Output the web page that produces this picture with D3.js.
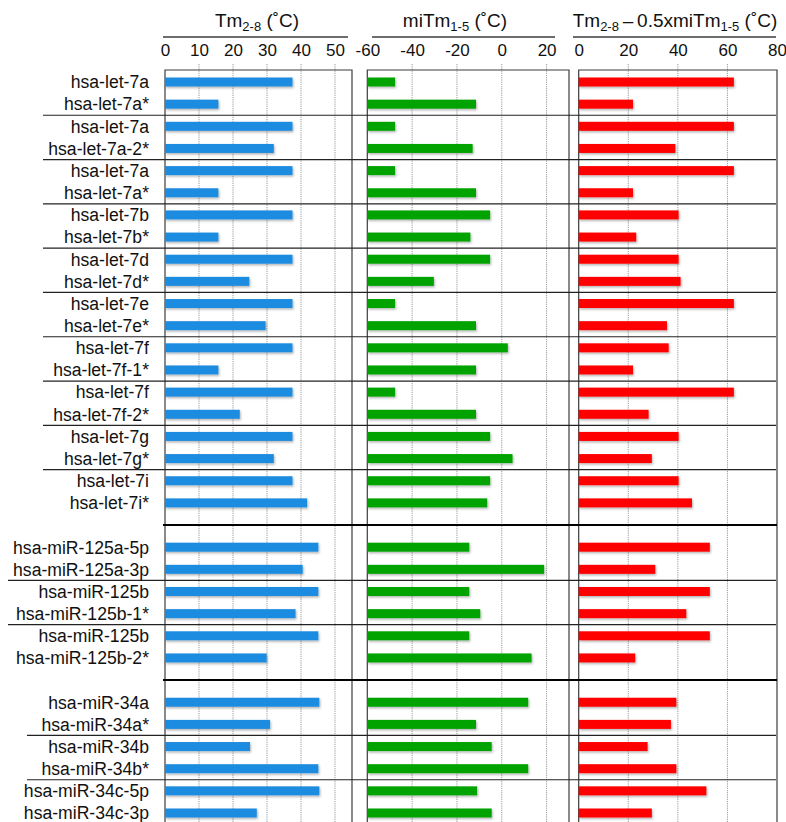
<!DOCTYPE html>
<html>
<head>
<meta charset="utf-8">
<script src="https://cdn.jsdelivr.net/npm/d3@7"></script>
<style>
  html, body { margin: 0; padding: 0; background: #fff; }
  svg { display: block; font-family: "Liberation Sans", Arial, Helvetica, sans-serif; }
</style>
</head>
<body>
<svg id="chart" width="786" height="822"></svg>
<script>
// miRNA names, grouped by family (let-7, miR-125, miR-34)
const labelsLet7 = ["hsa-let-7a","hsa-let-7a*","hsa-let-7a","hsa-let-7a-2*","hsa-let-7a","hsa-let-7a*",
  "hsa-let-7b","hsa-let-7b*","hsa-let-7d","hsa-let-7d*","hsa-let-7e","hsa-let-7e*",
  "hsa-let-7f","hsa-let-7f-1*","hsa-let-7f","hsa-let-7f-2*","hsa-let-7g","hsa-let-7g*",
  "hsa-let-7i","hsa-let-7i*"];
const labels125 = ["hsa-miR-125a-5p","hsa-miR-125a-3p","hsa-miR-125b","hsa-miR-125b-1*","hsa-miR-125b","hsa-miR-125b-2*"];
const labels34 = ["hsa-miR-34a","hsa-miR-34a*","hsa-miR-34b","hsa-miR-34b*","hsa-miR-34c-5p","hsa-miR-34c-3p"];

// Tm of seed region nt 2-8 (°C)
const tm28 = [37.5,15.7,37.5,32,37.5,15.7,37.5,15.7,37.5,24.8,37.5,29.6,37.5,15.7,37.5,22,37.5,32,37.5,41.8,
  45.1,40.5,45.1,38.4,45.1,29.9,
  45.4,30.9,25,45.1,45.4,27];
// miTm of nt 1-5 (°C)
const miTm15 = [-47.6,-11.5,-47.6,-13,-47.6,-11.5,-5.2,-14,-5.2,-30.3,-47.6,-11.5,2.7,-11.5,-47.6,-11.5,-5.2,4.8,-5.2,-6.5,
  -14.5,18.9,-14.5,-9.6,-14.5,13.3,
  11.8,-11.5,-4.5,11.8,-11,-4.5];
// Tm2-8 - 0.5 x miTm1-5 (°C)
const combined = [62.6,21.9,62.6,39,62.6,21.9,40.3,23.2,40.3,41.1,62.6,35.6,36.3,21.9,62.6,28.2,40.3,29.5,40.3,45.7,
  52.9,30.9,52.9,43.4,52.9,22.8,
  39.4,37.2,27.8,39.4,51.5,29.5];

const ticksTm = [0,10,20,30,40,50];
const ticksMi = [-60,-40,-20,0,20];
const ticksComb = [0,20,40,60,80];

const groups = [labelsLet7, labels125, labels34];

// Build rows: one blank slot between families
const rows = [];
const blankSlots = [];
const pairSeps = [];
let slot = 0, k = 0;
groups.forEach((g, gi) => {
  if (gi > 0) { blankSlots.push(slot); slot++; }
  g.forEach((name, j) => {
    rows.push({ name, slot, group: gi, tm: tm28[k], mi: miTm15[k], comb: combined[k] });
    if (j % 2 === 1 && j < g.length - 1) pairSeps.push({ slot, group: gi });
    slot++; k++;
  });
});
const nSlots = slot;

const svg = d3.select("#chart");
const W = 786, H = 822;

const y = d3.scalePoint().domain(d3.range(nSlots)).range([82, 813]);
const step = y.step();
const barH = 9;

const xTm = d3.scaleLinear().domain([0, 55]).range([165, 352]);
const xMi = d3.scaleLinear().domain([-60, 30]).range([367.3, 569]);
const xComb = d3.scaleLinear().domain([0, 80]).range([578.7, 777]);

const frameTop = 70;
const frameColor = "#3c3c3c";

// soft shadow under bars
const defs = svg.append("defs");
const f = defs.append("filter").attr("id", "shadow").attr("x", "-5%").attr("y", "-40%").attr("width", "115%").attr("height", "200%");
f.append("feDropShadow").attr("dx", 1).attr("dy", 1.5).attr("stdDeviation", 1).attr("flood-color", "#000").attr("flood-opacity", 0.3);

const panels = [
  { x: xTm, ticks: ticksTm, key: "tm", color: "#1f8ce0", base: 0, grid: [10,20,30,40,50],
    title: [["Tm", false], ["2-8", true], [" (˚C)", false]], titleX: 257, line: [163, 348] },
  { x: xMi, ticks: ticksMi, key: "mi", color: "#00a300", base: -60, grid: [-40,-20,0,20],
    title: [["miTm", false], ["1-5", true], [" (˚C)", false]], titleX: 455, line: [372, 555] },
  { x: xComb, ticks: ticksComb, key: "comb", color: "#ff0000", base: 0, grid: [20,40,60],
    title: [["Tm", false], ["2-8", true], ["\u2009–\u20090.5xmiTm", false], ["1-5", true], [" (˚C)", false]], titleX: 675, line: [573, 776] }
];

panels.forEach(p => {
  const [r0, r1] = p.x.range();
  // dotted gridlines
  svg.append("g").selectAll("line").data(p.grid).join("line")
    .attr("x1", d => p.x(d)).attr("x2", d => p.x(d))
    .attr("y1", 64).attr("y2", H + 5)
    .attr("stroke", "#9a9a9a").attr("stroke-width", 1).attr("stroke-dasharray", "1.2,1");
  // panel frame
  svg.append("path")
    .attr("d", `M${r0},${H + 5}V${frameTop}H${r1}V${H + 5}`)
    .attr("fill", "none").attr("stroke", frameColor).attr("stroke-width", 1.2);

  // axis tick labels
  const ax = svg.append("g").attr("transform", "translate(0,61)")
    .call(d3.axisTop(p.x).tickValues(p.ticks).tickSize(0).tickPadding(5).tickFormat(d => String(d)));
  ax.select(".domain").remove();
  ax.selectAll("text").attr("font-size", 17).attr("fill", "#111")
    .attr("font-family", "'Liberation Sans', Arial, sans-serif");

  // title with subscripts
  const t = svg.append("text").attr("x", p.titleX).attr("y", 27).attr("text-anchor", "middle")
    .attr("font-size", 19).attr("fill", "#111");
  p.title.forEach(([s, sub]) => {
    const ts = t.append("tspan").text(s);
    if (sub) ts.attr("font-size", 13).attr("baseline-shift", "-30%");
  });
  svg.append("line").attr("x1", p.line[0]).attr("x2", p.line[1]).attr("y1", 37).attr("y2", 37)
    .attr("stroke", frameColor).attr("stroke-width", 1.3);

  // bars
  svg.append("g").attr("filter", "url(#shadow)").selectAll("rect").data(rows).join("rect")
    .attr("x", p.x(p.base))
    .attr("y", d => y(d.slot) - barH / 2)
    .attr("width", d => p.x(d[p.key]) - p.x(p.base))
    .attr("height", barH)
    .attr("fill", p.color);
});

// separators between pairs; left extent follows each family's label column
const sepLeft = [43, 8, 27];
svg.append("g").selectAll("line").data(pairSeps).join("line")
  .attr("x1", d => sepLeft[d.group]).attr("x2", 776)
  .attr("y1", d => y(d.slot) + step / 2).attr("y2", d => y(d.slot) + step / 2)
  .attr("stroke", "#222").attr("stroke-width", 1.2);

// heavier rules between families
svg.append("g").selectAll("line").data(blankSlots).join("line")
  .attr("x1", 163).attr("x2", 777)
  .attr("y1", d => y(d)).attr("y2", d => y(d))
  .attr("stroke", "#000").attr("stroke-width", 2);

// row labels
svg.append("g").selectAll("text").data(rows).join("text")
  .attr("x", 149).attr("y", d => y(d.slot)).attr("dy", "0.36em")
  .attr("text-anchor", "end").attr("font-size", 17.6).attr("fill", "#111")
  .text(d => d.name);
</script>
</body>
</html>
